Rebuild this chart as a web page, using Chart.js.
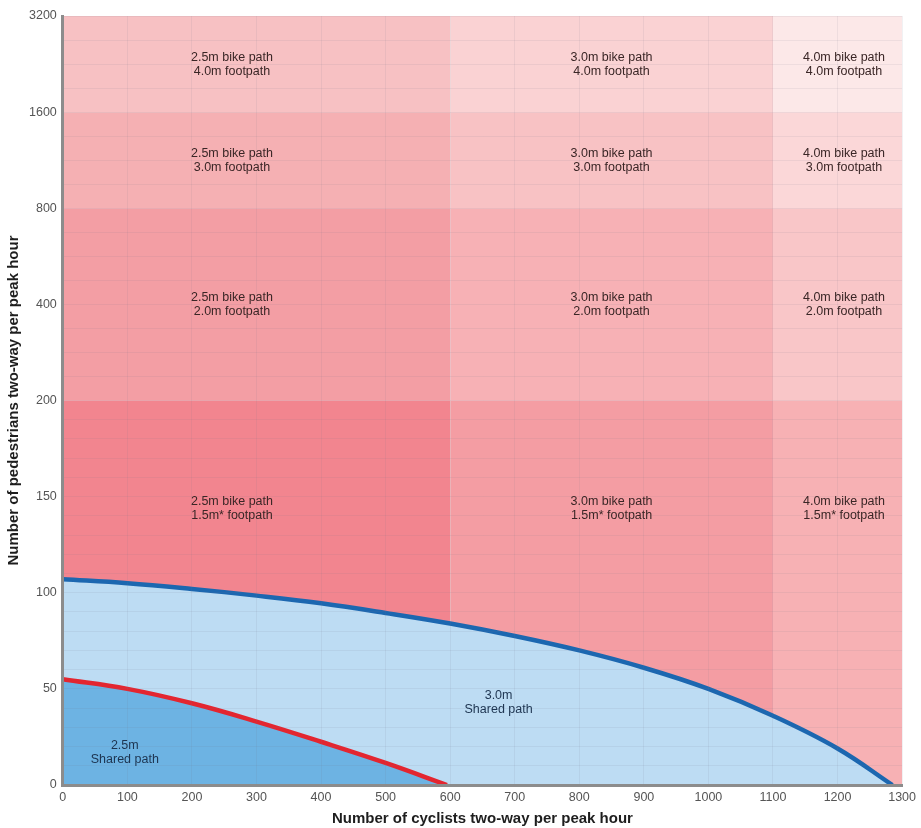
<!DOCTYPE html>
<html>
<head>
<meta charset="utf-8">
<script src="https://cdn.jsdelivr.net/npm/chart.js@4/dist/chart.umd.min.js"></script>
<style>
  html, body { margin: 0; padding: 0; background: #ffffff; }
  #wrap { width: 921px; height: 828px; position: relative; }
</style>
</head>
<body>
<div id="wrap"><canvas id="c"></canvas></div>
<script>
// ---------- DATA ----------
const yTickLabels = ['0', '50', '100', '150', '200', '400', '800', '1600', '3200'];
const columnBounds = [0, 600, 1100, 1300];            // cyclists
const rowBounds = [0, 200, 800, 1600, 3200];          // pedestrians
const bikePathWidths = ['2.5m bike path', '3.0m bike path', '4.0m bike path'];
const footpathWidths = ['1.5m* footpath', '2.0m footpath', '3.0m footpath', '4.0m footpath'];
const cellLabelCyclists = [262, 850, 1210];
const cellLabelPedestrians = [144, 400, 1130, 2260];

const outerCyclists = [0, 100, 200, 300, 400, 500, 600, 700, 800, 900, 1000, 1100, 1200, 1285];
const outerPedestrians = [107, 105, 102, 98.5, 94.5, 89.5, 84, 77.5, 70, 61, 50, 36, 19, 0];
const innerCyclists = [0, 100, 200, 300, 400, 500, 595];
const innerPedestrians = [55, 50, 42.5, 33, 22.5, 11.5, 0];

const sharedLabels = [
  { lines: ['2.5m', 'Shared path'], cyclists: 96, pedestrians: 17 },
  { lines: ['3.0m', 'Shared path'], cyclists: 675, pedestrians: 43 }
];

// ---------- STYLE ----------
const cellColors = [
  ['#f2858f', '#f39ea4', '#f5b0b3', '#f7c1c3'],
  ['#f49da3', '#f7b1b5', '#f8c2c4', '#fad2d3'],
  ['#f7b1b4', '#f9c6c8', '#fbd7d8', '#fce8e8']
];

// piecewise scale: 0-200 linear (50 per step), above 200 doubling per step
function pedToIdx(v) {
  return v <= 200 ? v / 50 : 4 + Math.log2(v / 200);
}

const datasets = [];
for (let c = 0; c < columnBounds.length - 1; c++) {
  const x0 = columnBounds[c], x1 = columnBounds[c + 1];
  datasets.push({
    type: 'line', order: 10,
    data: [{ x: x0, y: pedToIdx(rowBounds[0]) }, { x: x1, y: pedToIdx(rowBounds[0]) }],
    borderWidth: 0, pointRadius: 0, fill: false
  });
  for (let r = 1; r < rowBounds.length; r++) {
    datasets.push({
      type: 'line', order: 10,
      data: [{ x: x0, y: pedToIdx(rowBounds[r]) }, { x: x1, y: pedToIdx(rowBounds[r]) }],
      borderWidth: 0, pointRadius: 0,
      backgroundColor: cellColors[c][r - 1],
      fill: '-1'
    });
  }
}
datasets.push({
  type: 'line', order: 2,
  data: outerCyclists.map((x, i) => ({ x, y: pedToIdx(outerPedestrians[i]) })),
  borderColor: '#1c67b0', borderWidth: 4.5, pointRadius: 0,
  backgroundColor: '#bddcf3', fill: 'origin',
  tension: 0.4
});
datasets.push({
  type: 'line', order: 1,
  data: innerCyclists.map((x, i) => ({ x, y: pedToIdx(innerPedestrians[i]) })),
  borderColor: '#e32630', borderWidth: 4.5, pointRadius: 0,
  backgroundColor: '#6db3e3', fill: 'origin',
  tension: 0.4
});

const labelPlugin = {
  id: 'cellLabels',
  afterDraw(chart) {
    const ctx = chart.ctx, xs = chart.scales.x, ys = chart.scales.y;
    ctx.save();
    ctx.textAlign = 'center';
    ctx.textBaseline = 'middle';
    ctx.font = '12.5px "Liberation Sans", Arial, sans-serif';
    ctx.fillStyle = '#3a2626';
    const lh = 14;
    for (let c = 0; c < bikePathWidths.length; c++) {
      for (let r = 0; r < footpathWidths.length; r++) {
        const px = xs.getPixelForValue(cellLabelCyclists[c]);
        const py = ys.getPixelForValue(pedToIdx(cellLabelPedestrians[r]));
        ctx.fillText(bikePathWidths[c], px, py - lh / 2);
        ctx.fillText(footpathWidths[r], px, py + lh / 2);
      }
    }
    ctx.fillStyle = '#1d3450';
    sharedLabels.forEach(s => {
      const px = xs.getPixelForValue(s.cyclists);
      const py = ys.getPixelForValue(pedToIdx(s.pedestrians));
      ctx.fillText(s.lines[0], px, py - lh / 2);
      ctx.fillText(s.lines[1], px, py + lh / 2);
    });
    ctx.restore();
  }
};

const gridCol = 'rgba(120,120,140,0.10)';

new Chart(document.getElementById('c'), {
  type: 'line',
  data: { datasets },
  options: {
    responsive: true,
    maintainAspectRatio: false,
    animation: false,
    layout: { padding: { left: 5, right: 0, top: 16, bottom: 0 } },
    plugins: { legend: { display: false }, tooltip: { enabled: false } },
    scales: {
      x: {
        type: 'linear', min: 0, max: 1300,
        ticks: {
          stepSize: 100, color: '#555', padding: 5, maxRotation: 0,
          font: { size: 12.5, family: '"Liberation Sans", Arial, sans-serif' },
          callback: (v) => String(v)
        },
        grid: { color: gridCol, drawTicks: false, z: 1 },
        border: { color: '#8c8c8c', width: 3, z: 2 },
        title: {
          display: true, text: 'Number of cyclists two-way per peak hour',
          color: '#1e1e1e', padding: { top: 0, bottom: 0 },
          font: { size: 15, weight: 'bold', family: '"Liberation Sans", Arial, sans-serif' }
        }
      },
      y: {
        type: 'linear', min: 0, max: 8,
        afterBuildTicks(scale) {
          const t = [];
          for (let i = 0; i <= 20; i++) t.push({ value: i * 0.2 });
          for (let i = 1; i <= 16; i++) t.push({ value: 4 + i * 0.25 });
          scale.ticks = t;
        },
        ticks: {
          autoSkip: false, color: '#555', padding: 6,
          font: { size: 12.5, family: '"Liberation Sans", Arial, sans-serif' },
          callback: (v) => {
            const r = Math.round(v);
            return Math.abs(v - r) < 1e-6 ? yTickLabels[r] : '';
          }
        },
        grid: { color: gridCol, drawTicks: false, z: 1 },
        border: { color: '#8c8c8c', width: 3, z: 2 },
        title: {
          display: true, text: 'Number of pedestrians two-way per peak hour',
          color: '#1e1e1e', padding: { top: 0, bottom: 0 },
          font: { size: 15, weight: 'bold', family: '"Liberation Sans", Arial, sans-serif' }
        }
      }
    }
  },
  plugins: [labelPlugin]
});
</script>
</body>
</html>
